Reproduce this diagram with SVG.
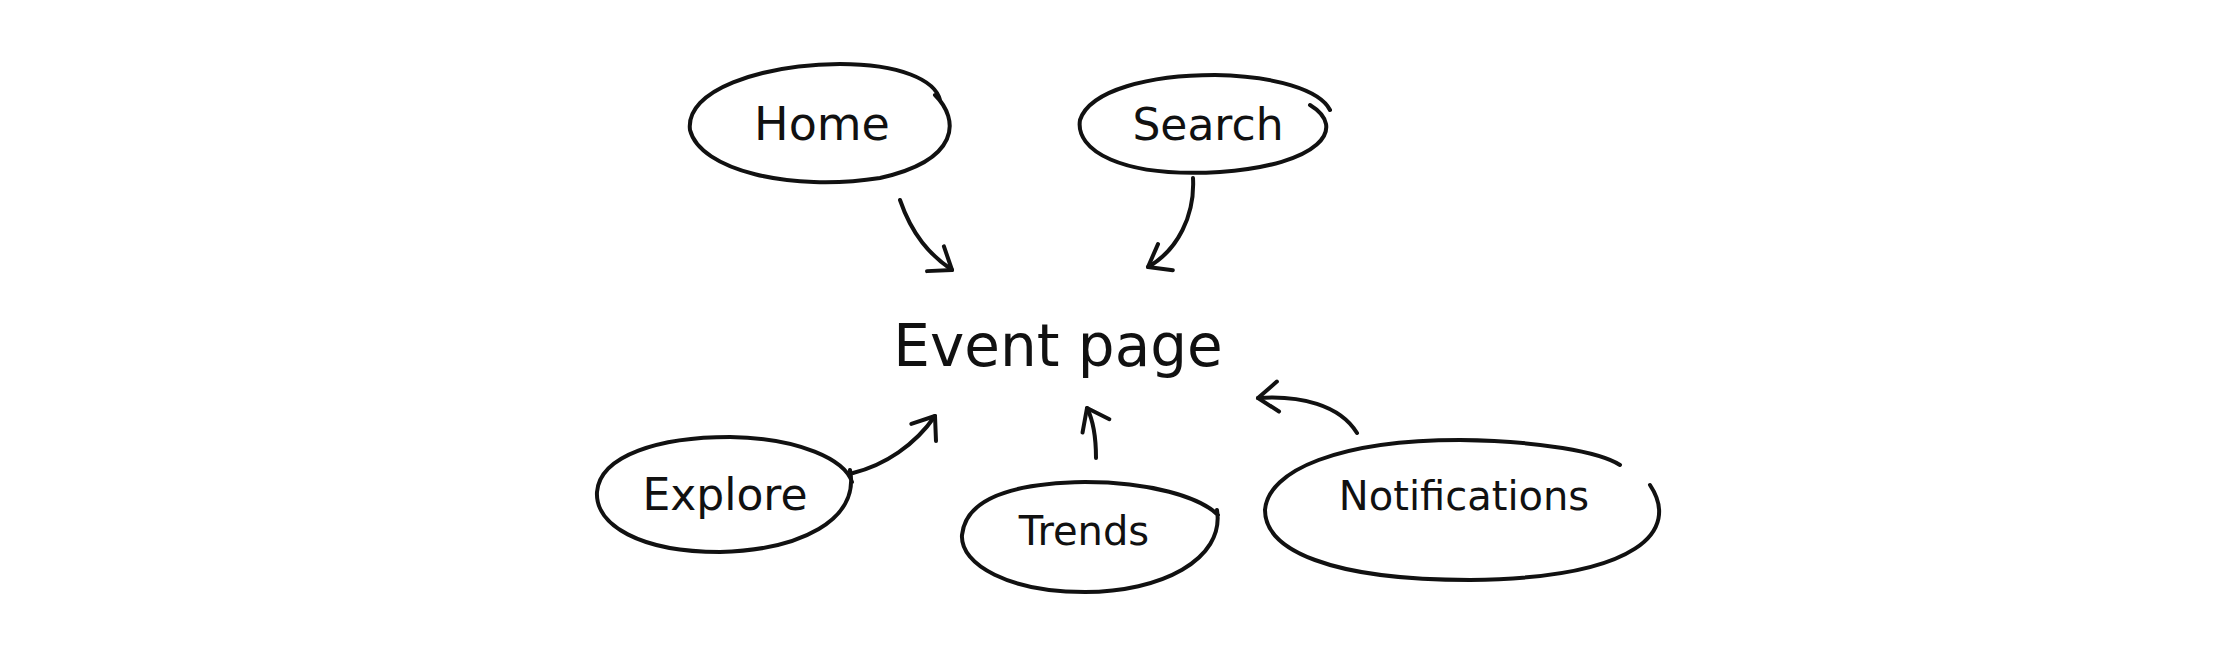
<svg xmlns="http://www.w3.org/2000/svg" width="2228" height="650" viewBox="0 0 2228 650">
<style>
.s{fill:none;stroke:#111;stroke-width:4;stroke-linecap:round;stroke-linejoin:round}
.t{font-family:"DejaVu Sans",sans-serif;fill:#111;text-anchor:middle}
</style>
<defs><marker id="a" viewBox="-30 -20 40 40" refX="0" refY="0" markerWidth="40" markerHeight="40" markerUnits="userSpaceOnUse" orient="auto" overflow="visible"><path d="M-20,-15 L0,0 L-20,15" class="s"/></marker></defs>
<rect width="2228" height="650" fill="#fff"/>
<g id="home"><path class="s" d="M935,95 C960,120 960,160 880,178 C790,192 700,170 690,130 C685,90 760,65 840,64 C900,64 935,80 940,100"/><text class="t" x="822" y="140" font-size="46">Home</text></g>
<g id="search"><path class="s" d="M1310,105 C1348,128 1320,165 1220,172 C1120,178 1075,150 1080,120 C1090,90 1150,75 1215,75 C1275,76 1320,90 1330,110"/><text class="t" x="1208" y="140" font-size="44">Search</text></g>
<g id="event"><text class="t" x="1058" y="366" font-size="58">Event page</text></g>
<g id="explore"><path class="s" d="M850,470 C860,520 800,550 720,552 C640,552 595,525 597,492 C600,455 660,437 730,437 C800,438 845,460 852,482"/><text class="t" x="725" y="510" font-size="44">Explore</text></g>
<g id="trends"><path class="s" d="M1217,510 C1225,560 1160,592 1085,592 C1010,592 960,565 962,535 C966,495 1020,483 1085,482 C1150,482 1200,497 1218,515"/><text class="t" x="1084" y="545" font-size="40">Trends</text></g>
<g id="notifications"><path class="s" d="M1650,485 C1680,530 1640,578 1470,580 C1330,580 1265,550 1265,510 C1268,470 1340,440 1460,440 C1540,441 1600,452 1620,465"/><text class="t" x="1464" y="510" font-size="40">Notifications</text></g>
<g id="connectors">
<path class="s" marker-end="url(#a)" d="M900,200 C912,235 930,255 952,270"/>
<path class="s" marker-end="url(#a)" d="M1193,178 C1195,215 1178,250 1148,267"/>
<path class="s" marker-end="url(#a)" d="M853,473 C885,465 915,445 935,416"/>
<path class="s" marker-end="url(#a)" d="M1096,458 C1096,440 1094,422 1087,408"/>
<path class="s" marker-end="url(#a)" d="M1357,433 C1340,405 1300,395 1258,398"/>
</g>
</svg>
